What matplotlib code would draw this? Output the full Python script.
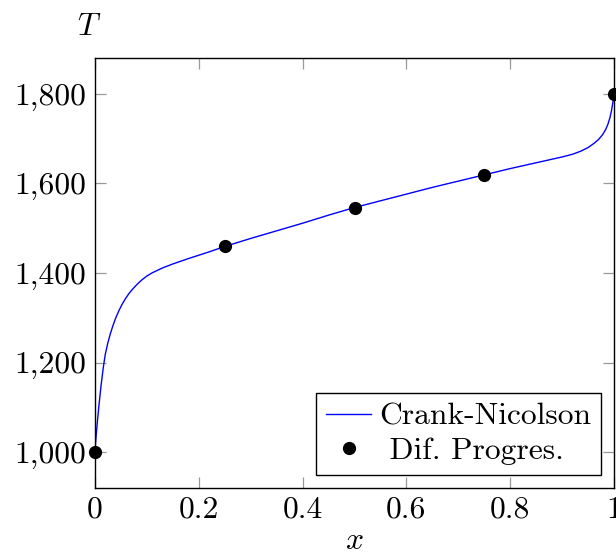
import matplotlib
matplotlib.use('Agg')
import matplotlib.pyplot as plt
from matplotlib.ticker import FuncFormatter

# Crank-Nicolson profile
cn_x = [0.0, 0.002, 0.005, 0.008, 0.012, 0.016, 0.02, 0.025, 0.03, 0.035,
        0.04, 0.046, 0.052, 0.058, 0.065, 0.072, 0.08, 0.09, 0.1, 0.11,
        0.13, 0.15, 0.18, 0.22, 0.25, 0.3, 0.35, 0.4, 0.45, 0.5,
        0.55, 0.6, 0.65, 0.7, 0.75, 0.8, 0.85, 0.9, 0.92, 0.936,
        0.95, 0.962, 0.97, 0.978, 0.984, 0.988, 0.992, 0.995, 0.998, 1.0]
cn_T = [1000, 1030, 1070, 1106, 1149, 1187, 1218, 1244, 1265, 1283,
        1299, 1315, 1329, 1341, 1353, 1363, 1373, 1384, 1393, 1400,
        1411, 1420, 1432, 1447, 1459, 1477, 1494, 1511, 1529, 1546,
        1561, 1576, 1591, 1605, 1619, 1633, 1646, 1659, 1665, 1672,
        1680, 1690, 1698, 1709, 1721, 1732, 1747, 1763, 1784, 1800]

# Dif. Progres. points
dp_x = [0.0, 0.25, 0.5, 0.75, 1.0]
dp_T = [1000, 1461, 1546, 1619, 1800]

xticks = [0, 0.2, 0.4, 0.6, 0.8, 1]
yticks = [1000, 1200, 1400, 1600, 1800]

plt.rcParams['font.family'] = 'serif'
plt.rcParams['font.serif'] = ['cmr10']
plt.rcParams['mathtext.fontset'] = 'cm'
plt.rcParams['axes.formatter.use_mathtext'] = True
plt.rcParams['font.size'] = 22.7

fig = plt.figure(figsize=(6.16, 5.57), dpi=100)
ax = fig.add_axes([0.154, 0.124, 0.843, 0.772])

ax.plot(cn_x, cn_T, color='blue', lw=1.0, label='Crank-Nicolson')
ax.plot(dp_x, dp_T, 'o', color='black', ms=8.5, label=' Dif. Progres.', clip_on=False, zorder=5)

ax.set_xlim(0, 1)
ax.set_ylim(920, 1880)
ax.set_xticks(xticks)
ax.set_yticks(yticks)
ax.xaxis.set_major_formatter(FuncFormatter(lambda v, p: '%g' % v))
ax.yaxis.set_major_formatter(FuncFormatter(lambda v, p: '{:,.0f}'.format(v)))
ax.tick_params(direction='in', length=8, width=0.9, color='#999999',
               top=True, right=True, pad=6)
for s in ax.spines.values():
    s.set_linewidth(1.0)

ax.set_xlabel('$x$', labelpad=3)
ax.text(-0.012, 1.04, '$T$', transform=ax.transAxes, ha='center', va='bottom')

leg = ax.legend(loc='lower right', fancybox=False, edgecolor='black', framealpha=1,
                handlelength=1.45, handletextpad=0.25, borderpad=0.3,
                labelspacing=0.2, borderaxespad=0.42)
leg.get_frame().set_linewidth(1.0)

fig.savefig('out.png', dpi=100)
